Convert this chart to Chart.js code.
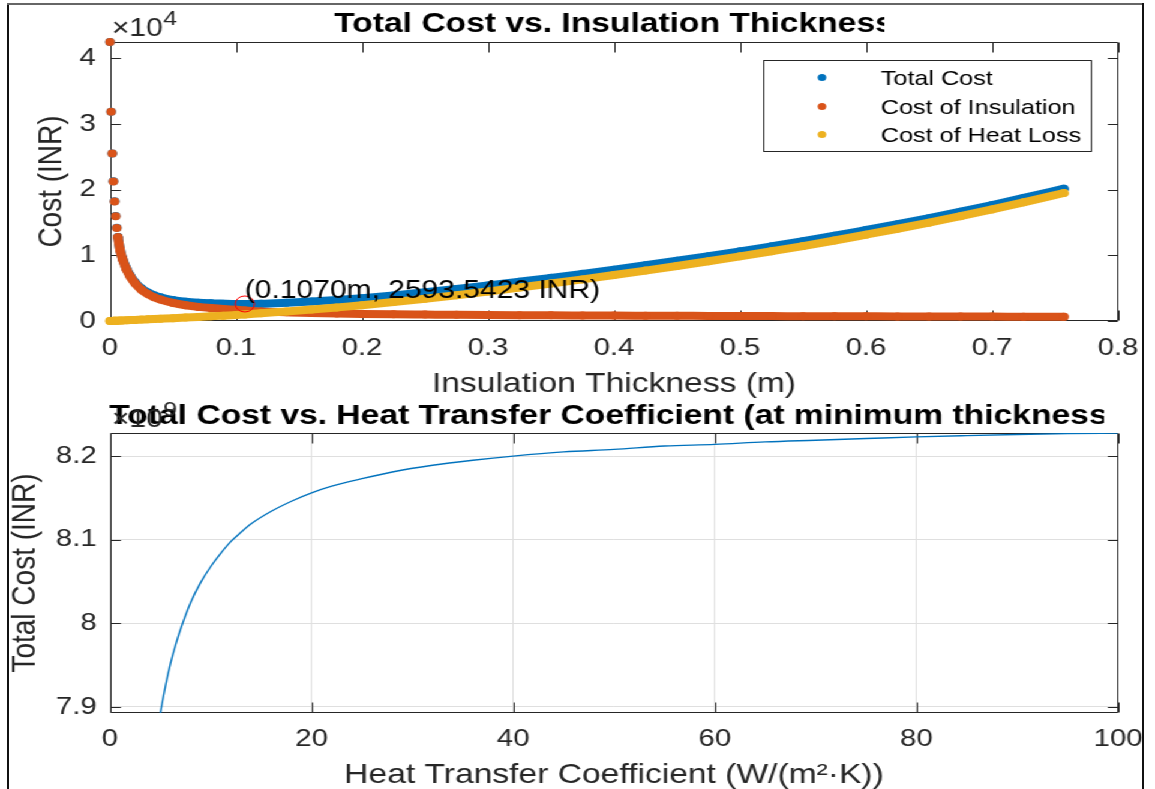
<!DOCTYPE html>
<html><head><meta charset="utf-8">
<script src="https://cdn.jsdelivr.net/npm/chart.js@4.4.1/dist/chart.umd.min.js"></script>
<style>
html,body{margin:0;padding:0;background:#fff;}
body{width:1155px;height:789px;overflow:hidden;position:relative;}
#stage{position:absolute;left:0;top:0;width:963px;height:789px;transform:scaleX(1.2);transform-origin:0 0;}
#stage canvas{position:absolute;left:0;}
.fr{position:absolute;}
</style></head><body>
<div id="stage">
  <canvas id="c1" width="963" height="400" style="top:0"></canvas>
  <canvas id="c2" width="963" height="397" style="top:392px"></canvas>
</div>
<div class="fr" style="left:7px;top:3px;width:2px;height:786px;background:#111"></div>
<div class="fr" style="left:7px;top:3px;width:1137px;height:2px;background:#666"></div>
<div class="fr" style="left:1142px;top:3px;width:2px;height:786px;background:#111"></div>
<script>
// ---------- data: top chart ----------
const thickness = [0, 0.0009, 0.0018, 0.0027, 0.0036, 0.0045, 0.0054, 0.0063, 0.008, 0.010, 0.013, 0.016, 0.020, 0.025, 0.030, 0.035, 0.040, 0.050, 0.060, 0.070, 0.080, 0.090, 0.100, 0.107, 0.120, 0.140, 0.160, 0.180, 0.200, 0.225, 0.250, 0.275, 0.300, 0.325, 0.350, 0.375, 0.400, 0.425, 0.450, 0.475, 0.500, 0.525, 0.550, 0.575, 0.600, 0.625, 0.650, 0.675, 0.700, 0.725, 0.757];
const totalCost = [42500, 31888, 25515, 21273, 18250, 15988, 14215, 12803, 10867, 9484, 8010, 6935, 5870, 4960, 4355, 3920, 3605, 3185, 2930, 2775, 2690, 2640, 2600, 2595, 2630, 2780, 2960, 3200, 3480, 3900, 4370, 4870, 5410, 5985, 6570, 7180, 7820, 8485, 9170, 9875, 10610, 11368, 12146, 12984, 13862, 14750, 15670, 16650, 17670, 18740, 20150];
const insulationCost = [42500, 31880, 25500, 21250, 18220, 15950, 14170, 12750, 10800, 9400, 7900, 6800, 5700, 4750, 4100, 3620, 3260, 2750, 2400, 2150, 1970, 1830, 1700, 1605, 1450, 1330, 1220, 1140, 1080, 1020, 980, 940, 910, 885, 860, 840, 820, 805, 790, 775, 760, 748, 736, 724, 712, 700, 690, 680, 670, 660, 650];
const heatLossCost = [0, 8, 15, 23, 30, 38, 45, 53, 67, 84, 110, 135, 170, 210, 255, 300, 345, 435, 530, 625, 720, 810, 900, 990, 1180, 1450, 1740, 2060, 2400, 2880, 3390, 3930, 4500, 5100, 5710, 6340, 7000, 7680, 8380, 9100, 9850, 10620, 11410, 12260, 13150, 14050, 14980, 15970, 17000, 18080, 19500];
const seriesNames = ['Total Cost', 'Cost of Insulation', 'Cost of Heat Loss'];
const seriesColors = ['#0072BD', '#D95319', '#EDB120'];
const minThickness = 0.1070;
const minTotalCost = 2593.5423;
const xTicksTop = [0, 0.1, 0.2, 0.3, 0.4, 0.5, 0.6, 0.7, 0.8];
const yTicksTop = [0, 10000, 20000, 30000, 40000];

// ---------- data: bottom chart ----------
const heatCoeff = [4, 4.5, 5, 5.5, 6, 6.5, 7, 8, 9, 10, 11, 12, 13, 14, 16, 18, 20, 22, 25, 28, 32, 36, 40, 45, 50, 55, 60, 65, 70, 75, 80, 85, 90, 95, 100];
const totalCostVsH = [7.806e9, 7.855e9, 7.893e9, 7.925e9, 7.952e9, 7.974e9, 7.993e9, 8.025e9, 8.049e9, 8.068e9, 8.084e9, 8.098e9, 8.109e9, 8.119e9, 8.134e9, 8.146e9, 8.156e9, 8.164e9, 8.173e9, 8.181e9, 8.189e9, 8.195e9, 8.200e9, 8.205e9, 8.208e9, 8.212e9, 8.214e9, 8.217e9, 8.219e9, 8.221e9, 8.223e9, 8.2245e9, 8.2258e9, 8.2268e9, 8.2276e9];
const xTicksBottom = [0, 20, 40, 60, 80, 100];
const yTicksBottom = [7.9e9, 8.0e9, 8.1e9, 8.2e9];

// ---------- styling ----------
const FONT = '"Liberation Sans", Arial, Helvetica, sans-serif';
const AXIS = '#262626';
Chart.defaults.font.family = FONT;
Chart.defaults.color = AXIS;

function pts(xs, ys) { return xs.map((v, i) => ({x: v, y: ys[i]})); }

function drawBox(chart, tv, th) {
  const {ctx, chartArea: a, scales: {x, y}} = chart;
  ctx.save();
  ctx.strokeStyle = AXIS; ctx.lineWidth = 1;
  const L = Math.round(a.left) + 0.5, R = Math.round(a.right) - 0.5;
  const T = Math.round(a.top) + 0.5, B = Math.round(a.bottom) - 0.5;
  ctx.beginPath();
  ctx.rect(L, T, R - L, B - T);
  x.ticks.forEach(t => {
    const p = Math.round(x.getPixelForValue(t.value)) + 0.5;
    ctx.moveTo(p, B); ctx.lineTo(p, B - tv);
    ctx.moveTo(p, T); ctx.lineTo(p, T + tv);
  });
  y.ticks.forEach(t => {
    const p = Math.round(y.getPixelForValue(t.value)) + 0.5;
    ctx.moveTo(L, p); ctx.lineTo(L + th, p);
    ctx.moveTo(R, p); ctx.lineTo(R - th, p);
  });
  ctx.stroke();
  ctx.restore();
}

function drawTitle(chart, text, baseY, clipRight) {
  const {ctx, chartArea: a} = chart;
  ctx.save();
  ctx.beginPath(); ctx.rect(0, 0, clipRight, chart.height); ctx.clip();
  ctx.font = `bold 28px ${FONT}`;
  ctx.fillStyle = '#000'; ctx.textAlign = 'center'; ctx.textBaseline = 'alphabetic';
  ctx.fillText(text, (a.left + a.right) / 2, baseY);
  ctx.restore();
}

function drawLabels(chart, xl, xBase, yl, yCenterX) {
  const {ctx, chartArea: a} = chart;
  ctx.save();
  ctx.font = `28px ${FONT}`; ctx.fillStyle = AXIS;
  ctx.textAlign = 'center'; ctx.textBaseline = 'alphabetic';
  ctx.fillText(xl, (a.left + a.right) / 2, xBase);
  ctx.translate(yCenterX, (a.top + a.bottom) / 2);
  ctx.rotate(-Math.PI / 2);
  ctx.textBaseline = 'middle';
  ctx.fillText(yl, 0, 0);
  ctx.restore();
}

function drawExponent(chart, exp) {
  const {ctx, chartArea: a} = chart;
  ctx.save();
  ctx.fillStyle = AXIS; ctx.textAlign = 'left'; ctx.textBaseline = 'alphabetic';
  ctx.font = `25px ${FONT}`;
  const bx = a.left + 1.5, by = a.top - 6;
  ctx.fillText('\u00d710', bx, by);
  const w = ctx.measureText('\u00d710').width;
  ctx.font = `21px ${FONT}`;
  ctx.fillText(exp, bx + w + 0.5, by - 11);
  ctx.restore();
}

const topDecor = {
  id: 'topDecor',
  beforeDatasetsDraw(chart) { drawBox(chart, 10, 8.3); },
  afterDatasetsDraw(chart) {
    const {ctx, scales: {x, y}} = chart;
    // annotation
    ctx.save();
    const px = x.getPixelForValue(minThickness), py = y.getPixelForValue(minTotalCost);
    ctx.font = `25px ${FONT}`; ctx.fillStyle = '#000';
    ctx.textAlign = 'left'; ctx.textBaseline = 'alphabetic';
    ctx.fillText(`(${minThickness.toFixed(4)}m, ${minTotalCost.toFixed(4)} INR)`, px, py - 5.5);
    // legend
    ctx.fillStyle = '#fff'; ctx.fillRect(636, 60, 274, 92);
    ctx.strokeStyle = AXIS; ctx.lineWidth = 1; ctx.strokeRect(636.5, 60.5, 273, 91);
    const rows = [77.5, 106.5, 134.5];
    ctx.font = `21px ${FONT}`;
    seriesNames.forEach((n, i) => {
      ctx.fillStyle = seriesColors[i];
      ctx.beginPath(); ctx.arc(685, rows[i], 3.6, 0, Math.PI * 2); ctx.fill();
      ctx.fillStyle = '#000';
      ctx.fillText(n, 734, rows[i] + 7.6);
    });
    ctx.restore();
  },
  afterDraw(chart) {
    drawTitle(chart, 'Total Cost vs. Insulation Thickness', 32, 737);
    drawLabels(chart, 'Insulation Thickness (m)', 392, 'Cost (INR)', 43);
    drawExponent(chart, '4');
  }
};

const bottomDecor = {
  id: 'bottomDecor',
  beforeDatasetsDraw(chart) { drawBox(chart, 10, 8.3); },
  afterDraw(chart) {
    drawTitle(chart, 'Total Cost vs. Heat Transfer Coefficient (at minimum thickness)', 32, 920);
    drawLabels(chart, 'Heat Transfer Coefficient (W/(m\u00b2\u00b7K))', 391, 'Total Cost (INR)', 21);
    drawExponent(chart, '9');
  }
};

function band(label, data, color, order) {
  return {
    label, data, order,
    borderColor: color, backgroundColor: color,
    pointBackgroundColor: color, pointBorderWidth: 0,
    pointRadius: 4, pointHoverRadius: 4,
    borderWidth: 8, borderCapStyle: 'round', borderJoinStyle: 'round',
    cubicInterpolationMode: 'monotone',
    segment: { borderColor: c => (label !== 'Cost of Heat Loss' && c.p0DataIndex < 7) ? 'rgba(0,0,0,0)' : undefined }
  };
}

const tickFont = {size: 24.5, family: FONT};

new Chart(document.getElementById('c1'), {
  type: 'line',
  data: {
    datasets: [
      band(seriesNames[0], pts(thickness, totalCost), seriesColors[0], 3),
      band(seriesNames[1], pts(thickness, insulationCost), seriesColors[1], 2),
      band(seriesNames[2], pts(thickness, heatLossCost), seriesColors[2], 1),
      { label: 'Minimum', data: [{x: minThickness, y: minTotalCost}], order: 0, showLine: false,
        pointRadius: 8, pointBorderColor: '#ff0000', pointBackgroundColor: 'rgba(0,0,0,0)', pointBorderWidth: 1 }
    ]
  },
  options: {
    responsive: false, animation: false, clip: false,
    layout: {padding: {top: 42, right: 31.3, bottom: 0, left: 0}},
    plugins: {legend: {display: false}, tooltip: {enabled: false}, title: {display: false}},
    scales: {
      x: { type: 'linear', min: 0, max: 0.8,
        grid: {display: false, drawTicks: false}, border: {display: false},
        afterBuildTicks: s => { s.ticks = xTicksTop.map(v => ({value: v})); },
        afterFit: s => { s.height = 79; s.paddingLeft = 0; s.paddingRight = 0; },
        ticks: {font: tickFont, color: AXIS, padding: 13, autoSkip: false, maxRotation: 0, minRotation: 0,
          callback: v => String(v)} },
      y: { type: 'linear', min: 0, max: 42500,
        grid: {display: false, drawTicks: false}, border: {display: false},
        afterBuildTicks: s => { s.ticks = yTicksTop.map(v => ({value: v})); },
        afterFit: s => { s.width = 91.67; s.paddingTop = 0; s.paddingBottom = 0; },
        ticks: {font: tickFont, color: AXIS, padding: 11.7, autoSkip: false,
          callback: v => String(v / 1e4)} }
    }
  },
  plugins: [topDecor]
});

new Chart(document.getElementById('c2'), {
  type: 'line',
  data: {
    datasets: [{
      label: 'Total Cost', data: pts(heatCoeff, totalCostVsH),
      borderColor: '#0072BD', borderWidth: 1.4, pointRadius: 0,
      cubicInterpolationMode: 'monotone', clip: {left: 0, top: 0, right: 0, bottom: 0}
    }]
  },
  options: {
    responsive: false, animation: false,
    layout: {padding: {top: 41, right: 31.3, bottom: 0, left: 0}},
    plugins: {legend: {display: false}, tooltip: {enabled: false}, title: {display: false}},
    scales: {
      x: { type: 'linear', min: 0, max: 100,
        grid: {display: true, color: '#dfdfdf', lineWidth: 1, drawTicks: false}, border: {display: false},
        afterBuildTicks: s => { s.ticks = xTicksBottom.map(v => ({value: v})); },
        afterFit: s => { s.height = 76; s.paddingLeft = 0; s.paddingRight = 0; },
        ticks: {font: tickFont, color: AXIS, padding: 11.5, autoSkip: false, maxRotation: 0, minRotation: 0,
          callback: v => String(v)} },
      y: { type: 'linear', min: 7.8928e9, max: 8.2276e9,
        grid: {display: true, color: '#dfdfdf', lineWidth: 1, drawTicks: false}, border: {display: false},
        afterBuildTicks: s => { s.ticks = yTicksBottom.map(v => ({value: v})); },
        afterFit: s => { s.width = 91.67; s.paddingTop = 0; s.paddingBottom = 0; },
        ticks: {font: tickFont, color: AXIS, padding: 11, autoSkip: false,
          callback: v => String(parseFloat((v / 1e9).toFixed(2)))} }
    }
  },
  plugins: [bottomDecor]
});
</script>
</body></html>
